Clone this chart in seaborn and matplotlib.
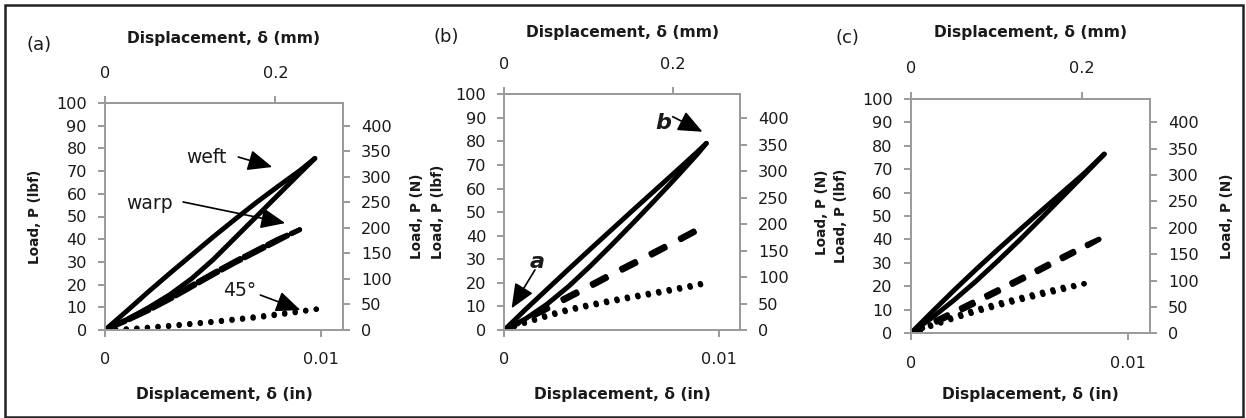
import matplotlib
matplotlib.use("Agg")
import matplotlib.pyplot as plt
from matplotlib.patches import Rectangle
import seaborn as sns

# ---------------- data (in, lbf) ----------------
# panel (a)
weft_a_x = [0, 0.001, 0.002, 0.003, 0.004, 0.005, 0.006, 0.007, 0.008, 0.009, 0.0097]
weft_a_load = [0, 4.6, 9.8, 15.6, 22.6, 31, 40.5, 50, 59.5, 69, 75.6]
weft_a_unload = [0, 8.3, 16.8, 25, 33, 41, 48.7, 56.2, 63.3, 70.2, 75.6]
warp_a_x = [0, 0.001, 0.002, 0.003, 0.004, 0.005, 0.006, 0.007, 0.008, 0.009]
warp_a_load = [0, 4.0, 8.5, 13.5, 18.9, 24.3, 29.5, 34.4, 39.3, 44.2]
warp_a_unload = [0, 4.6, 9.2, 14.3, 19.7, 25.1, 30.3, 35.2, 40.1, 44.2]
d45_a_x = [0, 0.001, 0.002, 0.003, 0.004, 0.005, 0.006, 0.007, 0.008, 0.009, 0.0098]
d45_a_load = [0, 0.3, 0.9, 1.6, 2.5, 3.4, 4.4, 5.4, 6.6, 7.9, 9.2]
d45_a_unload = [0, 0.5, 1.2, 2.0, 2.9, 3.8, 4.8, 5.9, 7.1, 8.4, 9.2]

# panel (b)
weft_b_x = [0, 0.001, 0.002, 0.003, 0.004, 0.005, 0.006, 0.007, 0.008, 0.009, 0.00943]
weft_b_load = [0, 4.8, 11, 18.5, 27, 36, 45.3, 54.8, 64.5, 74.5, 79.2]
weft_b_unload = [0, 8.8, 17.3, 25.8, 34.2, 42.5, 50.8, 59, 67.2, 75.5, 79.2]
warp_b_x = [0, 0.001, 0.002, 0.003, 0.004, 0.005, 0.006, 0.007, 0.008, 0.009, 0.0096]
warp_b_load = [0, 4.2, 8.8, 13.5, 18.2, 23, 27.6, 32.3, 37.1, 42, 44.5]
warp_b_unload = [0, 5.0, 9.8, 14.5, 19.2, 24, 28.6, 33.3, 38, 42.8, 44.5]
d45_b_x = [0, 0.001, 0.002, 0.003, 0.004, 0.005, 0.006, 0.007, 0.008, 0.009, 0.00958]
d45_b_load = [0, 3.0, 5.7, 8.2, 10.2, 12.0, 13.7, 15.3, 17.0, 18.7, 20.5]
d45_b_unload = [0, 3.5, 6.4, 8.9, 10.9, 12.7, 14.4, 16.0, 17.7, 19.4, 20.5]

# panel (c)
weft_c_x = [0, 0.001, 0.002, 0.003, 0.004, 0.005, 0.006, 0.007, 0.008, 0.0089]
weft_c_load = [0, 6.8, 14.2, 22.2, 30.8, 39.7, 49, 58.4, 67.8, 76.4]
weft_c_unload = [0, 9.3, 18.4, 27.2, 35.7, 44.0, 52.2, 60.3, 68.4, 76.4]
warp_c_x = [0, 0.001, 0.002, 0.003, 0.004, 0.005, 0.006, 0.007, 0.008, 0.0089]
warp_c_load = [0, 3.8, 8.3, 12.9, 17.6, 22.3, 27, 31.8, 36.6, 41.2]
warp_c_unload = [0, 4.8, 9.4, 14, 18.6, 23.3, 28, 32.8, 37.4, 41.2]
d45_c_x = [0, 0.001, 0.002, 0.003, 0.004, 0.005, 0.006, 0.007, 0.00806]
d45_c_load = [0, 3.2, 6.3, 9.1, 11.7, 14.1, 16.4, 18.6, 21.3]
d45_c_unload = [0, 4.0, 7.2, 10.1, 12.7, 15.1, 17.4, 19.6, 21.3]

panel_tags = ["(a)", "(b)", "(c)"]
lbf_ticks = [0, 10, 20, 30, 40, 50, 60, 70, 80, 90, 100]
n_ticks = [0, 50, 100, 150, 200, 250, 300, 350, 400]
in_ticks = [0, 0.01]
mm_ticks = [0, 0.2]
in_tick_labels = ["0", "0.01"]
mm_tick_labels = ["0", "0.2"]

# ---------------- style ----------------
sns.set_theme(style="white")
plt.rcParams["font.family"] = ["DejaVu Sans"]

W, H = 1246, 418
fig = plt.figure(figsize=(W / 100, H / 100), dpi=100)
fig.patch.set_facecolor("white")

GRAY = "#9a9a9a"
INK = "#1a1a1a"
TICK_FS = 11.6
LAB_FS = 11.2
VLAB_FS = 9.8

# pixel boxes: left, right, top, bottom
boxes = [(105, 343, 103, 330), (504.3, 740, 94.3, 330), (910.7, 1150, 98.7, 333.3)]
# label pixel positions: left-label x, right-label x, top-label y, bottom-label y
label_px = [(42, 410, 43, 387), (445, 815, 37, 387), (848, 1220, 37, 387)]
tag_px = [(39, 45), (446, 37), (847, 38)]

panels = [
    dict(weft=(weft_a_x, weft_a_load, weft_a_unload), warp=(warp_a_x, warp_a_load, warp_a_unload),
         d45=(d45_a_x, d45_a_load, d45_a_unload), dash=(4.5, 0.9)),
    dict(weft=(weft_b_x, weft_b_load, weft_b_unload), warp=(warp_b_x, warp_b_load, warp_b_unload),
         d45=(d45_b_x, d45_b_load, d45_b_unload), dash=(3.2, 3.6)),
    dict(weft=(weft_c_x, weft_c_load, weft_c_unload), warp=(warp_c_x, warp_c_load, warp_c_unload),
         d45=(d45_c_x, d45_c_load, d45_c_unload), dash=(2.7, 3.1)),
]

axes = []
for i, (p, box) in enumerate(zip(panels, boxes)):
    l, r, t, b = box
    ax = fig.add_axes([l / W, 1 - b / H, (r - l) / W, (b - t) / H])
    axes.append(ax)
    ax.set_facecolor("white")

    x, lo, up = p["weft"]
    for yy in (lo, up):
        sns.lineplot(x=x, y=yy, sort=False, estimator=None, ax=ax, color="black", lw=3.5,
                     solid_capstyle="round", solid_joinstyle="round")
    x, lo, up = p["warp"]
    for yy in (lo, up):
        sns.lineplot(x=x, y=yy, sort=False, estimator=None, ax=ax, color="black", lw=3.5,
                     linestyle=(0, p["dash"]), dash_capstyle="round")
    x, lo, up = p["d45"]
    for yy in (lo, up):
        sns.lineplot(x=x, y=yy, sort=False, estimator=None, ax=ax, color="black", lw=3.9,
                     linestyle=(0, (0.01, 1.95)), dash_capstyle="round")

    ax.set_xlim(0, 0.011)
    ax.set_ylim(0, 100)
    ax.set_xticks(in_ticks)
    ax.set_xticklabels(in_tick_labels)
    ax.set_yticks(lbf_ticks)
    for s in ax.spines.values():
        s.set_color(GRAY)
        s.set_linewidth(1.4)
        s.set_visible(True)
    ax.tick_params(axis="both", which="both", direction="out", length=5, width=1.4, color=GRAY,
                   labelsize=TICK_FS, labelcolor=INK, bottom=True, left=True, top=False, right=False)
    ax.tick_params(axis="y", pad=8)
    ax.tick_params(axis="x", pad=11)

    aw, ah = r - l, b - t
    lx, rx, ty, by = label_px[i]
    ax.set_xlabel("Displacement, δ (in)", fontsize=LAB_FS, fontweight="bold", color=INK)
    ax.xaxis.set_label_coords(0.5, (b - by) / ah, transform=ax.transAxes)
    ax.set_ylabel("Load, P (lbf)", fontsize=VLAB_FS, fontweight="bold", color=INK)
    ax.yaxis.set_label_coords((lx - l) / aw, 0.5, transform=ax.transAxes)

    top = ax.secondary_xaxis("top", functions=(lambda v: v * 25.4, lambda v: v / 25.4))
    top.set_xticks(mm_ticks)
    top.set_xticklabels(mm_tick_labels)
    top.spines["top"].set_color(GRAY)
    top.spines["top"].set_linewidth(1.4)
    top.tick_params(direction="out", length=5, width=1.4, color=GRAY, labelsize=TICK_FS,
                    labelcolor=INK, pad=11)
    top.set_xlabel("Displacement, δ (mm)", fontsize=LAB_FS, fontweight="bold", color=INK)
    top.xaxis.set_label_coords(0.5, (b - ty) / ah, transform=ax.transAxes)

    right = ax.secondary_yaxis("right", functions=(lambda v: v * 4.448, lambda v: v / 4.448))
    right.set_yticks(n_ticks)
    right.spines["right"].set_color(GRAY)
    right.spines["right"].set_linewidth(1.4)
    right.tick_params(direction="out", length=5, width=1.4, color=GRAY, labelsize=TICK_FS,
                      labelcolor=INK, pad=8)
    right.set_ylabel("Load, P (N)", fontsize=VLAB_FS, fontweight="bold", color=INK)
    right.yaxis.set_label_coords((rx - l) / aw, 0.5, transform=ax.transAxes)

    tx, tyy = tag_px[i]
    fig.text(tx / W, 1 - tyy / H, panel_tags[i], ha="center", va="center", fontsize=13, color=INK)

arrow = dict(arrowstyle="-|>,head_length=0.75,head_width=0.32", color="black", lw=1.2,
             shrinkA=0, shrinkB=0, mutation_scale=20)
ax = axes[0]
ax.text(0.00468, 75.8, "weft", ha="center", va="center", fontsize=13.5, color=INK)
ax.annotate("", xy=(0.00773, 71.8), xytext=(0.00616, 76.2), arrowprops=arrow)
ax.text(0.00204, 55.9, "warp", ha="center", va="center", fontsize=13.5, color=INK)
ax.annotate("", xy=(0.00833, 47.1), xytext=(0.00361, 56.4), arrowprops=arrow)
ax.text(0.0062, 17.2, "45°", ha="center", va="center", fontsize=13.5, color=INK)
ax.annotate("", xy=(0.00903, 8.8), xytext=(0.00718, 15.4), arrowprops=arrow)

ax = axes[1]
ax.text(0.00744, 87.8, "b", ha="center", va="center", fontsize=16, fontweight="bold",
        fontstyle="italic", color=INK)
ax.annotate("", xy=(0.00925, 84.1), xytext=(0.00786, 90.5), arrowprops=arrow)
ax.text(0.00152, 28.9, "a", ha="center", va="center", fontsize=16, fontweight="bold",
        fontstyle="italic", color=INK)
ax.annotate("", xy=(0.00034, 9.2), xytext=(0.00143, 25.5), arrowprops=arrow)

fig.add_artist(Rectangle((5 / W, 1 - 416.5 / H), (1243 - 5) / W, (416.5 - 5) / H,
                         transform=fig.transFigure, fill=False, lw=1.8, ec="#222222"))

fig.savefig("out.png", dpi=100, facecolor="white")
